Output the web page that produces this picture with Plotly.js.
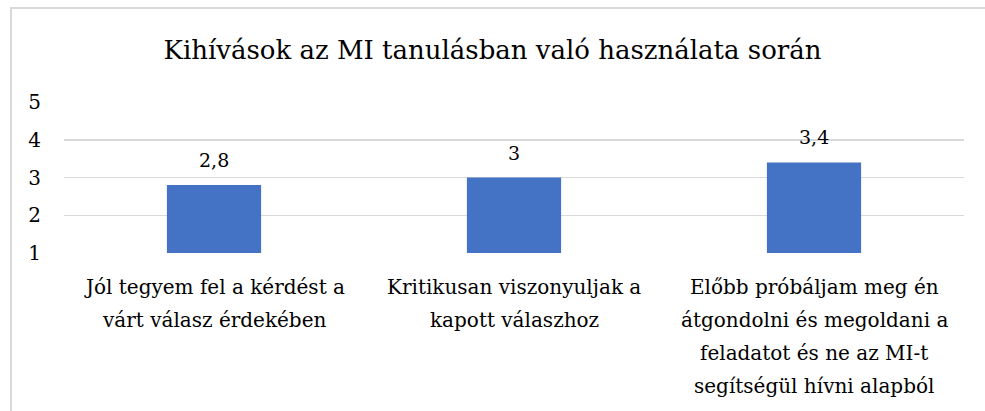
<!DOCTYPE html>
<html>
<head>
<meta charset="utf-8">
<script src="https://cdn.plot.ly/plotly-3.0.1.min.js"></script>
<style>
  html, body { margin: 0; padding: 0; background: #ffffff; }
  #wrap { position: relative; width: 985px; height: 411px; overflow: hidden; }
  #chart { width: 985px; height: 411px; }
  #frame { position: absolute; left: 10px; top: 7px; width: 1000px; height: 420px;
           border: 2px solid #d9d9d9; pointer-events: none; box-sizing: border-box; }
</style>
</head>
<body>
<div id="wrap">
  <div id="chart"></div>
  <div id="frame"></div>
</div>
<script>
const categories = [
  "Jól tegyem fel a kérdést a várt válasz érdekében",
  "Kritikusan viszonyuljak a kapott válaszhoz",
  "Előbb próbáljam meg én átgondolni és megoldani a feladatot és ne az MI-t segítségül hívni alapból"
];
const categoryLines = [
  ["Jól tegyem fel a kérdést a", "várt válasz érdekében"],
  ["Kritikusan viszonyuljak a", "kapott válaszhoz"],
  ["Előbb próbáljam meg én", "átgondolni és megoldani a", "feladatot és ne az MI-t", "segítségül hívni alapból"]
];
const values = [2.8, 3, 3.4];
const chartTitle = "Kihívások az MI tanulásban való használata során";
const yTicks = [1, 2, 3, 4, 5];
const axisMin = 1;

const FONT = "DejaVu Serif";

const trace = {
  type: "bar",
  x: categories,
  y: values.map(v => v - axisMin),
  base: axisMin,
  marker: { color: "#4472c4" },
  hoverinfo: "none"
};

const annotations = values.map((v, i) => ({
  x: categories[i],
  y: v,
  xref: "x",
  yref: "y",
  text: String(v).replace(".", ","),
  showarrow: false,
  yanchor: "bottom",
  yshift: 12,
  font: { family: FONT, size: 19, color: "#000000" }
}));

categoryLines.forEach((lines, i) => {
  lines.forEach((line, k) => {
    annotations.push({
      x: categories[i],
      y: 0,
      xref: "x",
      yref: "paper",
      text: line,
      showarrow: false,
      xanchor: "center",
      yanchor: "middle",
      yshift: -(34 + 33 * k),
      font: { family: FONT, size: 20, color: "#000000" }
    });
  });
});

const layout = {
  width: 985,
  height: 411,
  paper_bgcolor: "#ffffff",
  plot_bgcolor: "#ffffff",
  separators: ", ",
  margin: { l: 64, r: 21, t: 102, b: 158 },
  title: {
    text: chartTitle,
    x: 0.5,
    xanchor: "center",
    y: 1 - 50 / 411,
    yanchor: "middle",
    font: { family: FONT, size: 26, color: "#000000" }
  },
  bargap: 0.686,
  showlegend: false,
  xaxis: {
    type: "category",
    showgrid: false,
    showline: false,
    zeroline: false,
    ticks: "",
    showticklabels: false,
    automargin: false
  },
  yaxis: {
    range: [1, 5],
    tickvals: yTicks,
    ticktext: yTicks.map(String),
    showgrid: true,
    gridcolor: "#d9d9d9",
    gridwidth: 1.5,
    zeroline: false,
    showline: false,
    ticks: "",
    ticklabelstandoff: 22,
    tickfont: { family: FONT, size: 20, color: "#000000" },
    automargin: false
  },
  annotations: annotations
};

Plotly.newPlot("chart", [trace], layout, { displayModeBar: false, staticPlot: true });
</script>
</body>
</html>
